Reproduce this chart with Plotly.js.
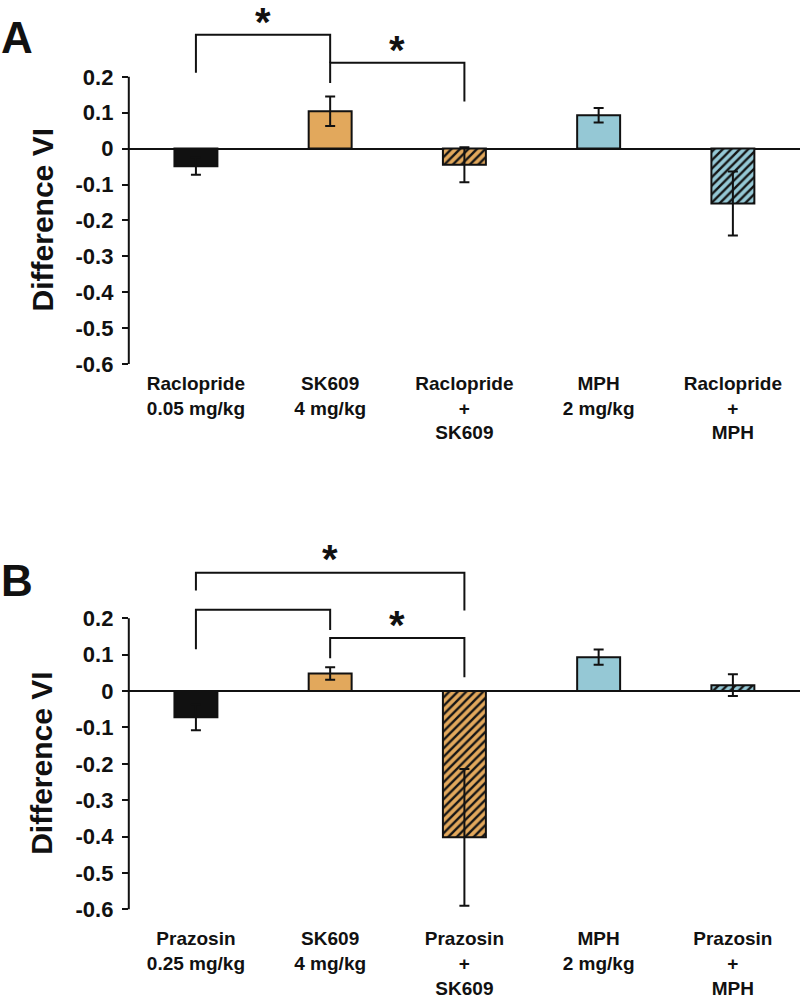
<!DOCTYPE html>
<html>
<head>
<meta charset="utf-8">
<script src="https://cdn.plot.ly/plotly-3.0.1.min.js"></script>
<style>html,body{margin:0;padding:0;background:#fff;}#chart{width:800px;height:999px;}</style>
</head>
<body>
<div id="chart"></div>
<script>
// ---- Panel A data ----
var categoriesA = ['Raclopride<br>0.05 mg/kg', 'SK609<br>4 mg/kg', 'Raclopride<br>+<br>SK609', 'MPH<br>2 mg/kg', 'Raclopride<br>+<br>MPH'];
var valuesA = [-0.049, 0.104, -0.045, 0.093, -0.153];
var errorsA = [0.024, 0.041, 0.049, 0.02, 0.089];
// ---- Panel B data ----
var categoriesB = ['Prazosin<br>0.25 mg/kg', 'SK609<br>4 mg/kg', 'Prazosin<br>+<br>SK609', 'MPH<br>2 mg/kg', 'Prazosin<br>+<br>MPH'];
var valuesB = [-0.072, 0.048, -0.402, 0.093, 0.016];
var errorsB = [0.036, 0.017, 0.188, 0.021, 0.03];
// ---- shared bar styling per category ----
var barColors = ['#111111', '#E2A85C', '#E2A85C', '#95C8D5', '#95C8D5'];
var barPatterns = ['', '', '/', '', '/'];
// ---- axis ticks ----
var yTicks = [0.2, 0.1, 0, -0.1, -0.2, -0.3, -0.4, -0.5, -0.6];
var yTickText = ['0.2', '0.1', '0', '-0.1', '-0.2', '-0.3', '-0.4', '-0.5', '-0.6'];
// ---- significance brackets (category index, data y) ----
var bracketFromA = [0, 1];
var bracketToA = [1, 2];
var bracketTopA = [0.317, 0.239];
var bracketLeftEndA = [0.211, 0.183];
var bracketRightEndA = [0.239, 0.131];
var starXA = [0.5, 1.5];
var starYA = [0.372, 0.294];

var bracketFromB = [0, 0, 1];
var bracketToB = [2, 1, 2];
var bracketTopB = [0.325, 0.223, 0.146];
var bracketLeftEndB = [0.276, 0.115, 0.090];
var bracketRightEndB = [0.221, 0.168, 0.038];
var starXB = [1.0, 1.5];
var starYB = [0.383, 0.2];

var yAxisLabel = 'Difference VI';
var panelLetters = ['A', 'B'];

var FONT = 'Liberation Sans, Arial, sans-serif';
var INK = '#111111';

function barTraces(cats, vals, errs, xa, ya) {
  var out = [];
  for (var i = 0; i < cats.length; i++) {
    var marker = {color: barColors[i], line: {color: INK, width: 2}};
    if (barPatterns[i]) {
      marker.pattern = {shape: barPatterns[i], bgcolor: barColors[i], fgcolor: '#151515', fgopacity: 1, size: 6, solidity: 0.4, fillmode: 'replace'};
    }
    out.push({
      type: 'bar', x: [cats[i]], y: [vals[i]], xaxis: xa, yaxis: ya, width: 0.32,
      marker: marker,
      error_y: {type: 'data', array: [errs[i]], visible: true, color: INK, thickness: 2, width: 5},
      hoverinfo: 'skip', showlegend: false
    });
  }
  return out;
}

var data = barTraces(categoriesA, valuesA, errorsA, 'x', 'y').concat(barTraces(categoriesB, valuesB, errorsB, 'x2', 'y2'));

function yaxisCfg(domain) {
  return {
    domain: domain, range: [-0.6, 0.4], tickmode: 'array', tickvals: yTicks, ticktext: yTickText,
    ticks: 'outside', ticklen: 6, tickwidth: 2, tickcolor: INK, showline: false, showgrid: false,
    zeroline: true, zerolinecolor: INK, zerolinewidth: 2, ticklabelstandoff: 4,
    tickfont: {family: FONT, size: 22, color: INK, weight: 'bold'}, fixedrange: true
  };
}
function xaxisCfg(anchor, standoff, cats) {
  return {
    domain: [0.161, 1], range: [-0.5, 4.5], type: 'category', categoryorder: 'array', categoryarray: cats, anchor: anchor,
    showline: false, ticks: '', showgrid: false, zeroline: false,
    tickfont: {family: FONT, size: 19, color: INK, weight: 'bold'}, ticklabelstandoff: standoff, fixedrange: true
  };
}

var domA = [0.6356, 0.995];
var domB = [0.0897, 0.454];

var shapes = [];
var annotations = [];

function addPanel(xr, yr, from, to, top, le, re, sx, sy, letter, letterY) {
  // y axis line from -0.6 to 0.2
  shapes.push({type: 'line', xref: 'paper', yref: yr, x0: 0.161, x1: 0.161, y0: yTicks[yTicks.length - 1], y1: yTicks[0], line: {color: INK, width: 2}});
  for (var i = 0; i < from.length; i++) {
    shapes.push({
      type: 'path', xref: xr, yref: yr,
      path: 'M ' + from[i] + ',' + le[i] + ' L ' + from[i] + ',' + top[i] + ' L ' + to[i] + ',' + top[i] + ' L ' + to[i] + ',' + re[i],
      line: {color: INK, width: 2}
    });
  }
  for (var j = 0; j < sx.length; j++) {
    annotations.push({xref: xr, yref: yr, x: sx[j], y: sy[j], text: '*', showarrow: false, yanchor: 'middle', yshift: -7, borderpad: 0,
      font: {family: FONT, size: 40, color: INK, weight: 'bold'}});
  }
  annotations.push({xref: 'paper', yref: yr, x: 0.0525, y: -0.2, text: yAxisLabel, textangle: -90, showarrow: false,
    xanchor: 'center', yanchor: 'middle', font: {family: FONT, size: 30, color: INK, weight: 'bold'}});
  annotations.push({xref: 'paper', yref: 'paper', x: 0.021, y: letterY, text: letter, showarrow: false,
    xanchor: 'center', yanchor: 'middle', font: {family: FONT, size: 44, color: INK, weight: 'bold'}});
}

addPanel('x', 'y', bracketFromA, bracketToA, bracketTopA, bracketLeftEndA, bracketRightEndA, starXA, starYA, panelLetters[0], 0.962);
addPanel('x2', 'y2', bracketFromB, bracketToB, bracketTopB, bracketLeftEndB, bracketRightEndB, starXB, starYB, panelLetters[1], 0.419);

var layout = {
  width: 800, height: 999,
  margin: {l: 0, r: 0, t: 0, b: 0},
  paper_bgcolor: '#ffffff', plot_bgcolor: 'rgba(0,0,0,0)',
  showlegend: false,
  barmode: 'overlay',
  xaxis: xaxisCfg('y', 6, categoriesA),
  yaxis: yaxisCfg(domA),
  xaxis2: xaxisCfg('y2', 16, categoriesB),
  yaxis2: Object.assign(yaxisCfg(domB), {anchor: 'x2'}),
  shapes: shapes,
  annotations: annotations
};
layout.yaxis.anchor = 'x';

Plotly.newPlot('chart', data, layout, {displayModeBar: false, staticPlot: true});
</script>
</body>
</html>
